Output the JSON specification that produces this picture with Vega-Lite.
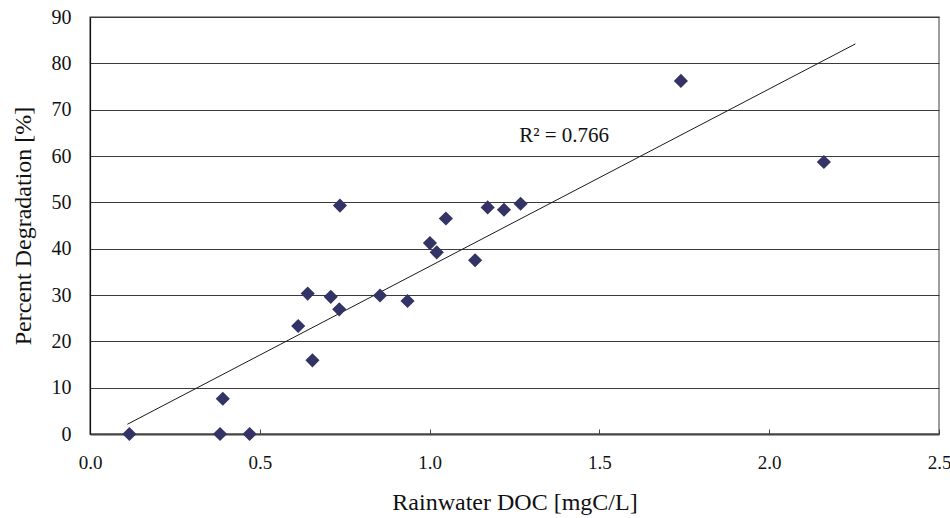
{
  "$schema": "https://vega.github.io/schema/vega-lite/v6.json",
  "width": 849,
  "height": 417,
  "autosize": {"type": "none"},
  "padding": {"left": 90, "top": 17, "right": 11, "bottom": 84},
  "background": "white",
  "config": {
    "view": {"stroke": "#7f7f7f", "strokeWidth": 1.5},
    "font": "Liberation Serif",
    "axis": {
      "labelFont": "Liberation Serif",
      "titleFont": "Liberation Serif",
      "labelColor": "#111",
      "titleColor": "#111",
      "labelFontSize": 19,
      "titleFontSize": 24,
      "titleFontWeight": "normal"
    }
  },
  "datasets": {
    "points": [
      {"doc": 0.116, "deg": 0},
      {"doc": 0.383, "deg": 0},
      {"doc": 0.391, "deg": 7.6},
      {"doc": 0.470, "deg": 0},
      {"doc": 0.613, "deg": 23.3},
      {"doc": 0.641, "deg": 30.3},
      {"doc": 0.655, "deg": 15.9},
      {"doc": 0.709, "deg": 29.6},
      {"doc": 0.734, "deg": 26.9},
      {"doc": 0.736, "deg": 49.3},
      {"doc": 0.854, "deg": 29.9},
      {"doc": 0.935, "deg": 28.7},
      {"doc": 1.001, "deg": 41.2},
      {"doc": 1.021, "deg": 39.2},
      {"doc": 1.048, "deg": 46.5},
      {"doc": 1.134, "deg": 37.5},
      {"doc": 1.171, "deg": 48.9},
      {"doc": 1.219, "deg": 48.4},
      {"doc": 1.268, "deg": 49.7},
      {"doc": 1.740, "deg": 76.2},
      {"doc": 2.161, "deg": 58.7}
    ],
    "trend": [
      {"doc": 0.110, "deg": 2.1},
      {"doc": 2.254, "deg": 84.2}
    ]
  },
  "layer": [
    {
      "data": {"name": "trend"},
      "mark": {"type": "line", "color": "#1a1a1a", "strokeWidth": 1},
      "encoding": {
        "x": {
          "field": "doc",
          "type": "quantitative",
          "scale": {"domain": [0, 2.5], "nice": false, "zero": false},
          "axis": {
            "title": "Rainwater DOC [mgC/L]",
            "values": [0, 0.5, 1, 1.5, 2, 2.5],
            "format": ".1f",
            "labelFlush": false,
            "labelOverlap": false,
            "labelFont": "Liberation Serif",
            "grid": false,
            "domainColor": "#444",
            "domainWidth": 2,
            "tickColor": "#444",
            "tickSize": -5,
            "labelPadding": 24,
            "titlePadding": 18
          }
        },
        "y": {
          "field": "deg",
          "type": "quantitative",
          "scale": {"domain": [0, 90], "nice": false},
          "axis": {
            "title": "Percent Degradation [%]",
            "values": [0, 10, 20, 30, 40, 50, 60, 70, 80, 90],
            "labelFont": "Liberation Serif",
            "labelFontSize": 20,
            "grid": true,
            "gridColor": "#3a3a3a",
            "gridWidth": 1,
            "ticks": false,
            "domainColor": "#111",
            "domainWidth": 1.2,
            "labelPadding": 19,
            "titlePadding": 16
          }
        }
      }
    },
    {
      "data": {"name": "points"},
      "mark": {"type": "point", "shape": "diamond", "filled": true, "size": 200, "color": "#333366", "opacity": 1},
      "encoding": {
        "x": {"field": "doc", "type": "quantitative"},
        "y": {"field": "deg", "type": "quantitative"}
      }
    },
    {
      "data": {"values": [{"label": "R² = 0.766"}]},
      "mark": {"type": "text", "font": "Liberation Serif", "fontSize": 21, "align": "center", "baseline": "alphabetic", "color": "#111"},
      "encoding": {
        "x": {"datum": 1.396},
        "y": {"datum": 63},
        "text": {"field": "label"}
      }
    }
  ]
}
